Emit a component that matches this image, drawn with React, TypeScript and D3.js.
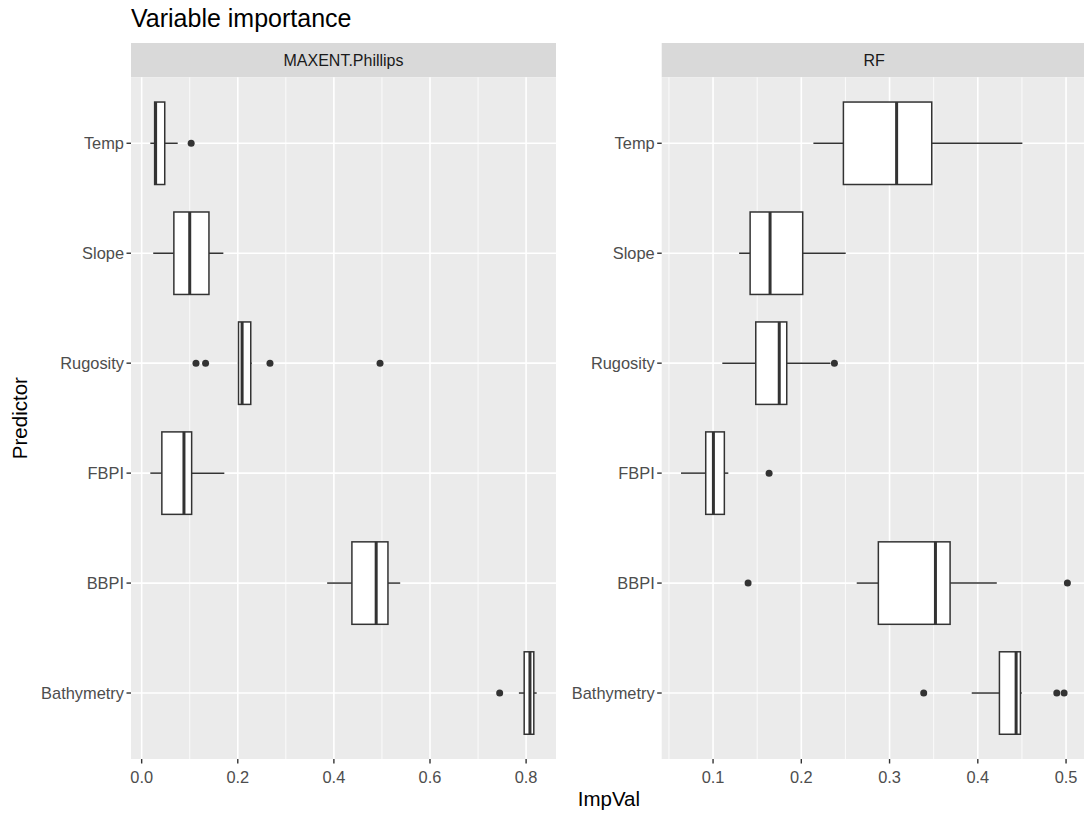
import React from 'react';
import * as d3 from 'd3';

// boxplot summaries (one entry per predictor)
const predictors = ['Temp', 'Slope', 'Rugosity', 'FBPI', 'BBPI', 'Bathymetry'];
const models = ['MAXENT.Phillips', 'RF'];

const maxentLo = [0.018, 0.024, 0.2005, 0.018, 0.386, 0.785];
const maxentQ1 = [0.027, 0.067, 0.2015, 0.042, 0.4375, 0.796];
const maxentMed = [0.029, 0.100, 0.209, 0.088, 0.488, 0.808];
const maxentQ3 = [0.048, 0.140, 0.227, 0.104, 0.5125, 0.816];
const maxentHi = [0.075, 0.170, 0.229, 0.172, 0.538, 0.822];
const maxentOut = [[0.103], [], [0.113, 0.133, 0.267, 0.496], [], [], [0.745]];

const rfLo = [0.2137, 0.1295, 0.1105, 0.0637, 0.2628, 0.3931];
const rfQ1 = [0.2477, 0.142, 0.1484, 0.0917, 0.2873, 0.4245];
const rfMed = [0.308, 0.1646, 0.175, 0.1004, 0.352, 0.4434];
const rfQ3 = [0.3478, 0.2016, 0.1835, 0.1128, 0.3686, 0.4483];
const rfHi = [0.4505, 0.2503, 0.233, 0.1173, 0.4215, 0.4498];
const rfOut = [[], [], [0.2375], [0.1635], [0.1397, 0.5015], [0.3387, 0.4895, 0.4978]];

const FONT = '"Liberation Sans", Arial, Helvetica, sans-serif';
const dims = { x: 1084, y: 816 };
const panelX = [[131, 556], [661.7, 1086.7]];
const panelY = [77.3, 759];
const stripTop = 43;

const buildStats = (lo, q1, med, q3, hi, out) =>
  predictors.map((p, i) => ({ p, lo: lo[i], q1: q1[i], med: med[i], q3: q3[i], hi: hi[i], out: out[i] }));

const panelData = [
  buildStats(maxentLo, maxentQ1, maxentMed, maxentQ3, maxentHi, maxentOut),
  buildStats(rfLo, rfQ1, rfMed, rfQ3, rfHi, rfOut),
];

const drawPanel = (svg, stats, name, xr) => {
  const all = stats.flatMap(s => [s.lo, s.hi, ...s.out]);
  const [mn, mx] = d3.extent(all);
  const pad = (mx - mn) * 0.05;
  const x = d3.scaleLinear([mn - pad, mx + pad], xr);
  const y = d3.scalePoint(predictors, panelY).padding(0.6);
  const bw = y.step() * 0.75;
  const [x0, x1] = xr;

  const major = x.ticks(5);
  const step = major[1] - major[0];
  const dom = x.domain();
  const minor = [...major.map(t => t - step / 2), major[major.length - 1] + step / 2]
    .filter(t => t > dom[0] && t < dom[1]);

  const g = svg.append('g');
  // strip
  g.append('rect').attr('x', x0).attr('y', stripTop).attr('width', x1 - x0)
    .attr('height', panelY[0] - stripTop).attr('fill', '#D9D9D9');
  g.append('text').attr('x', (x0 + x1) / 2).attr('y', (stripTop + panelY[0]) / 2)
    .attr('text-anchor', 'middle').attr('dominant-baseline', 'central')
    .attr('font-size', 16).attr('fill', '#1A1A1A').text(name);

  g.append('rect').attr('x', x0).attr('y', panelY[0]).attr('width', x1 - x0)
    .attr('height', panelY[1] - panelY[0]).attr('fill', '#EBEBEB');

  g.selectAll('.minor').data(minor).enter().append('line')
    .attr('x1', d => x(d)).attr('x2', d => x(d)).attr('y1', panelY[0]).attr('y2', panelY[1])
    .attr('stroke', '#fff').attr('stroke-width', 0.8);
  g.selectAll('.major').data(major).enter().append('line')
    .attr('x1', d => x(d)).attr('x2', d => x(d)).attr('y1', panelY[0]).attr('y2', panelY[1])
    .attr('stroke', '#fff').attr('stroke-width', 1.6);
  g.selectAll('.hmajor').data(predictors).enter().append('line')
    .attr('x1', x0).attr('x2', x1).attr('y1', d => y(d)).attr('y2', d => y(d))
    .attr('stroke', '#fff').attr('stroke-width', 1.6);

  // y axis
  g.selectAll('.ytick').data(predictors).enter().append('line')
    .attr('x1', x0 - 4.5).attr('x2', x0).attr('y1', d => y(d)).attr('y2', d => y(d))
    .attr('stroke', '#333').attr('stroke-width', 1.4);
  g.selectAll('.ylab').data(predictors).enter().append('text')
    .attr('x', x0 - 7).attr('y', d => y(d)).attr('text-anchor', 'end')
    .attr('dominant-baseline', 'central').attr('font-size', 16.4).attr('fill', '#4D4D4D')
    .text(d => d);

  // x axis
  g.selectAll('.xtick').data(major).enter().append('line')
    .attr('x1', d => x(d)).attr('x2', d => x(d)).attr('y1', panelY[1]).attr('y2', panelY[1] + 4.5)
    .attr('stroke', '#333').attr('stroke-width', 1.4);
  g.selectAll('.xlab').data(major).enter().append('text')
    .attr('x', d => x(d)).attr('y', panelY[1] + 18).attr('text-anchor', 'middle')
    .attr('dominant-baseline', 'central').attr('font-size', 16.4).attr('fill', '#4D4D4D')
    .text(d => d3.format('.1f')(d));

  // boxes
  const box = g.selectAll('.box').data(stats).enter().append('g');
  box.append('line').attr('x1', d => x(d.lo)).attr('x2', d => x(d.q1))
    .attr('y1', d => y(d.p)).attr('y2', d => y(d.p)).attr('stroke', '#333').attr('stroke-width', 1.5);
  box.append('line').attr('x1', d => x(d.q3)).attr('x2', d => x(d.hi))
    .attr('y1', d => y(d.p)).attr('y2', d => y(d.p)).attr('stroke', '#333').attr('stroke-width', 1.5);
  box.append('rect').attr('x', d => x(d.q1)).attr('width', d => x(d.q3) - x(d.q1))
    .attr('y', d => y(d.p) - bw / 2).attr('height', bw)
    .attr('fill', '#fff').attr('stroke', '#333').attr('stroke-width', 1.5);
  box.append('line').attr('x1', d => x(d.med)).attr('x2', d => x(d.med))
    .attr('y1', d => y(d.p) - bw / 2).attr('y2', d => y(d.p) + bw / 2)
    .attr('stroke', '#333').attr('stroke-width', 3);
  box.selectAll('circle').data(d => d.out.map(v => ({ v, p: d.p }))).enter().append('circle')
    .attr('cx', d => x(d.v)).attr('cy', d => y(d.p)).attr('r', 3.5).attr('fill', '#333');
};

const App = () => {
  const ref = React.useRef(null);

  React.useEffect(() => {
    const svg = d3.select(ref.current);
    svg.selectAll('*').remove();
    svg.append('rect').attr('width', dims.x).attr('height', dims.y).attr('fill', '#fff');
    panelData.forEach((stats, i) => drawPanel(svg, stats, models[i], panelX[i]));

    svg.append('text').attr('x', 131).attr('y', 27).attr('font-size', 25).attr('fill', '#000')
      .text('Variable importance');
    svg.append('text').attr('x', (panelX[0][0] + panelX[1][1]) / 2).attr('y', 806)
      .attr('text-anchor', 'middle').attr('font-size', 20.5).attr('fill', '#000').text('ImpVal');
    svg.append('text').attr('transform', `translate(27,${(panelY[0] + panelY[1]) / 2}) rotate(-90)`)
      .attr('text-anchor', 'middle').attr('font-size', 20.5).attr('fill', '#000').text('Predictor');
  }, []);

  return (
    <svg ref={ref} width={dims.x} height={dims.y} fontFamily={FONT}
      style={{ position: 'absolute', left: 0, top: 0, display: 'block' }} />
  );
};

export default App;
